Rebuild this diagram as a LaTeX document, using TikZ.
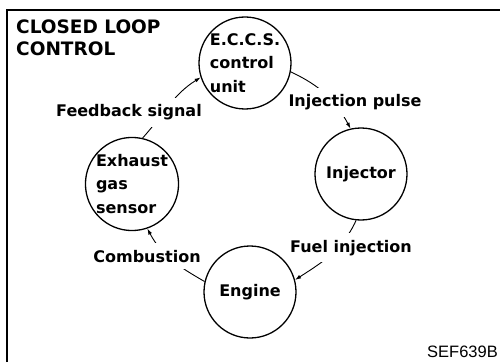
\documentclass[tikz,border=0pt]{standalone}
\usepackage{fontspec}
\setmainfont{DejaVu Sans}
\newfontfamily\refcodefont{Liberation Sans}
\usetikzlibrary{arrows.meta}

\begin{document}
\begin{tikzpicture}[
    x=1pt, y=1pt,
    unit/.style={circle, draw, line width=1.3pt, minimum size=92pt, inner sep=0pt, align=left, font=\fontsize{16}{23.5}\selectfont\bfseries},
    tag/.style={fill=white, inner xsep=2pt, inner ysep=7pt, anchor=base, font=\fontsize{16}{19}\selectfont\bfseries},
    flow/.style={-{Latex[length=6pt,width=4pt]}, line width=0.9pt}
  ]
    \useasboundingbox (0,0) rectangle (500,362);
    \draw[line width=1.3pt] (7,0) -- (7,352) -- (500,352);
    \node[anchor=north west, inner sep=0pt, align=left, font=\fontsize{18.5}{22}\selectfont\bfseries] (title) at (16,342) {CLOSED LOOP\\CONTROL};
    \node[unit] (eccs) at (245,299) {E.C.C.S.\\control\\unit};
    \node[unit] (inj) at (361,188) {Injector};
    \node[unit] (eng) at (250,70) {Engine};
    \node[unit] (sensor) at (132,178) {Exhaust\\gas\\sensor};
    \draw[flow] (sensor.77) to[out=48, in=-148] (eccs.198);
    \draw[flow] (eccs.-11) to[out=-25, in=118] (inj.103);
    \draw[flow] (inj.-96) to[out=-115, in=33] (eng.15);
    \draw[flow] (eng.167) to[out=150, in=-62] (sensor.-71);
    \node[tag] (fb) at (129,245) {Feedback signal};
    \node[tag] (pulse) at (355,255) {Injection pulse};
    \node[tag] (fuel) at (351,110) {Fuel injection};
    \node[tag] (burn) at (147,100) {Combustion};
    \node[anchor=base east, inner sep=0pt, font=\refcodefont\fontsize{16.5}{20}\selectfont] (code) at (498,5) {SEF639B};
\end{tikzpicture}
\end{document}
